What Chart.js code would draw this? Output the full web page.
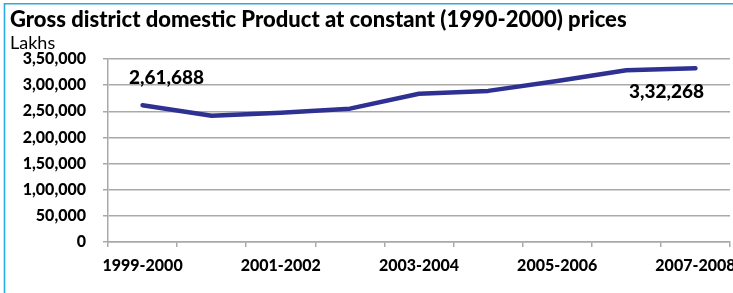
<!DOCTYPE html>
<html><head><meta charset="utf-8">
<script src="https://cdn.jsdelivr.net/npm/chart.js@4"></script>
<style>html,body{margin:0;padding:0;background:#fff}canvas{display:block}</style>
</head><body>
<canvas id="c" width="733" height="293"></canvas>
<script>
const titleText = "Gross district domestic Product at constant (1990-2000) prices";
const unitLabel = "Lakhs";
const categories = ["1999-2000","2000-2001","2001-2002","2002-2003","2003-2004","2004-2005","2005-2006","2006-2007","2007-2008"];
const gddpValues = [261688, 241500, 247000, 255000, 283500, 289000, 308000, 328500, 332268];
const labelledPoints = [0, 8];
const yMin = 0, yMax = 350000, yStep = 50000;

function inr(n){
  const s = String(Math.round(n));
  if (s.length <= 3) return s;
  const last3 = s.slice(-3);
  let rest = s.slice(0, -3);
  rest = rest.replace(/\B(?=(\d{2})+(?!\d))/g, ',');
  return rest + ',' + last3;
}

const FONT = "Lato, 'Open Sans', sans-serif";
const W = '900';
const gridCol = '#a9a9a9';

const decor = {
  id: 'decor',
  afterDraw(chart){
    const ctx = chart.ctx;
    ctx.save();
    ctx.strokeStyle = '#2aaae2';
    ctx.lineWidth = 1.6;
    ctx.beginPath();
    ctx.moveTo(4.5, 300); ctx.lineTo(4.5, 3.8); ctx.lineTo(740, 3.8);
    ctx.stroke();
    ctx.fillStyle = '#000';
    ctx.textBaseline = 'alphabetic';
    ctx.textAlign = 'left';
    let fs = 20;
    ctx.font = W + ' ' + fs + 'px ' + FONT;
    const w = ctx.measureText(titleText).width;
    fs = fs * 617 / w;
    ctx.font = W + ' ' + fs.toFixed(2) + 'px ' + FONT;
    ctx.fillText(titleText, 10, 27);
    ctx.font = '18px ' + FONT;
    ctx.fillText(unitLabel, 10, 49);
    const meta = chart.getDatasetMeta(0);
    ctx.font = W + ' 19px ' + FONT;
    ctx.textAlign = 'center';
    ctx.textBaseline = 'middle';
    const offs = {0: [24, -27], 8: [-29, 24]};
    labelledPoints.forEach(i => {
      const p = meta.data[i];
      const o = offs[i];
      ctx.fillText(inr(gddpValues[i]), p.x + o[0], p.y + o[1]);
    });
    ctx.restore();
  }
};

new Chart(document.getElementById('c'), {
  type: 'line',
  data: {
    labels: categories,
    datasets: [{
      data: gddpValues,
      borderColor: '#2f3192',
      borderWidth: 4.5,
      pointRadius: 0,
      tension: 0,
      borderCapStyle: 'round',
      borderJoinStyle: 'round',
      fill: false
    }]
  },
  options: {
    responsive: false,
    animation: false,
    devicePixelRatio: 1,
    layout: { padding: { top: 59, right: 3, left: 0, bottom: 0 } },
    plugins: { legend: { display: false }, tooltip: { enabled: false }, title: { display: false } },
    scales: {
      x: {
        type: 'category',
        offset: true,
        grid: { display: true, drawOnChartArea: false, drawTicks: true, tickLength: 5, color: gridCol, offset: true, lineWidth: 1.5 },
        border: { display: true, color: gridCol, width: 1.5 },
        ticks: {
          autoSkip: false, maxRotation: 0, minRotation: 0, padding: 9,
          color: '#000', font: { family: FONT, size: 16, weight: W },
          callback: function(v, i){ return i % 2 === 0 ? categories[i] : ''; }
        },
        afterFit(s){ s.height = 51; s.paddingLeft = 0; s.paddingRight = 0; }
      },
      y: {
        min: yMin, max: yMax,
        grid: { color: gridCol, lineWidth: 1.5, tickLength: 5, drawTicks: true },
        border: { display: true, color: gridCol, width: 1.5 },
        ticks: {
          stepSize: yStep, padding: 17, color: '#000',
          font: { family: FONT, size: 16, weight: W },
          callback: v => inr(v)
        },
        afterFit(s){ s.width = 108; s.paddingTop = 0; s.paddingBottom = 0; }
      }
    }
  },
  plugins: [decor]
});
</script>
</body></html>
